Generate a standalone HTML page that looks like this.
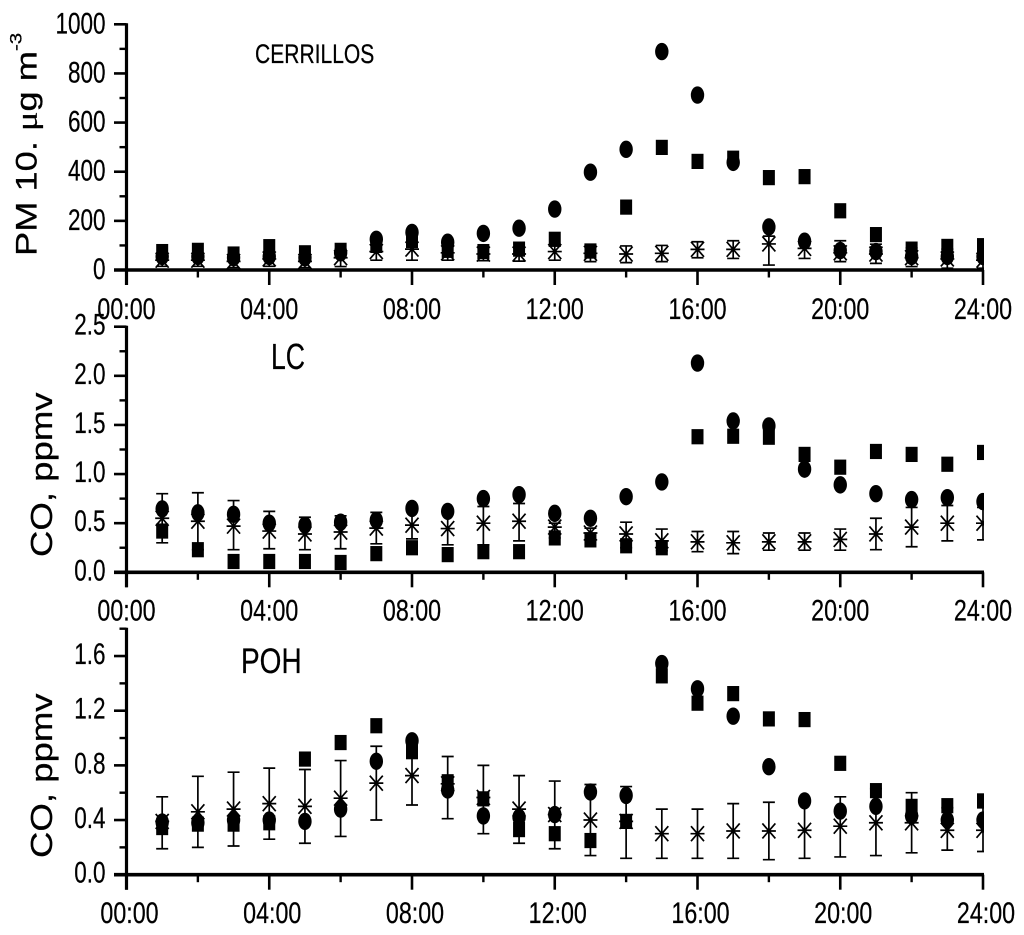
<!DOCTYPE html>
<html lang="en">
<head>
<meta charset="utf-8">
<title>CERRILLOS, LC and POH diurnal profiles</title>
<style>
html,body{margin:0;padding:0;background:#fff}
svg{display:block}
text{font-family:"Liberation Sans",sans-serif;fill:#000;stroke:#000;stroke-width:.25}
</style>
</head>
<body>
<svg id="chart" xmlns="http://www.w3.org/2000/svg" width="1024" height="935" viewBox="0 0 1024 935">
  <rect width="1024" height="935" fill="#fff"/>
  <text font-size="30" transform="translate(36.5,256) rotate(-90) scale(1.21,1)">PM 10. <tspan font-family="Liberation Serif">μ</tspan>g m<tspan font-size="17" dy="-15">-3</tspan></text>
  <text font-size="31" transform="translate(52,557) rotate(-90) scale(1.18,1)">CO, ppmv</text>
  <text font-size="31" transform="translate(52,858) rotate(-90) scale(1.18,1)">CO, ppmv</text>
  <text font-size="27" transform="translate(255,63) scale(.78,1)">CERRILLOS</text>
  <text font-size="36" transform="translate(271,369) scale(.74,1)">LC</text>
  <text font-size="35" transform="translate(241,673) scale(.8,1)">POH</text>
</svg>
<script>
// Shared data
const hours = [1,2,3,4,5,6,7,8,9,10,11,12,13,14,15,16,17,18,19,20,21,22,23,24];
const xTickLabels = ["00:00","04:00","08:00","12:00","16:00","20:00","24:00"];
const xTickValues = [0,4,8,12,16,20,24];
const xMinorValues = [2,6,10,14,18,22];

// PM10 panel (CERRILLOS)
const pmSquares = [75,80,65,95,70,80,100,120,80,75,85,125,77,256,499,442,455,376,380,241,144,85,96,99];
const pmCircles = [55,55,50,55,50,70,125,153,113,149,170,248,398,491,889,712,438,175,117,79,75,55,55,55];
const pmStars = [40,40,35,45,35,50,75,85,70,65,65,75,68,65,68,84,84,106,88,70,65,50,45,40];
const pmStarsHigh = [65,65,55,70,55,85,110,130,100,92,94,98,105,98,100,115,119,138,125,119,105,90,85,75];
const pmStarsLow = [15,15,10,15,10,14,40,40,40,38,36,40,34,30,34,50,47,20,47,34,27,14,7,7];
const pmYTicks = [0,200,400,600,800,1000];
const pmYTickLabels = ["0","200","400","600","800","1000"];
const pmYMinor = [100,300,500,700,900];

// CO panel (LC)
const lcSquares = [0.42,0.23,0.11,0.11,0.11,0.10,0.19,0.25,0.18,0.21,0.21,0.35,0.33,0.27,0.25,1.38,1.385,1.375,1.2,1.07,1.23,1.2,1.1,1.22];
const lcCircles = [0.645,0.605,0.59,0.5,0.48,0.51,0.53,0.65,0.62,0.75,0.79,0.6,0.55,0.77,0.92,2.13,1.54,1.49,1.05,0.89,0.8,0.74,0.76,0.72];
const lcStars = [0.55,0.52,0.47,0.42,0.39,0.41,0.45,0.48,0.445,0.5,0.52,0.46,0.4,0.39,0.32,0.31,0.3,0.31,0.31,0.335,0.39,0.46,0.5,0.5];
const lcStarsHigh = [0.8,0.81,0.73,0.62,0.56,0.575,0.61,0.63,0.6,0.67,0.7,0.5,0.45,0.51,0.44,0.415,0.415,0.4,0.4,0.44,0.55,0.66,0.68,0.66];
const lcStarsLow = [0.3,0.23,0.23,0.24,0.23,0.24,0.29,0.34,0.28,0.28,0.32,0.35,0.33,0.25,0.22,0.21,0.19,0.225,0.225,0.225,0.23,0.26,0.32,0.33];
const lcYTicks = [0,0.5,1,1.5,2,2.5];
const lcYTickLabels = ["0.0","0.5","1.0","1.5","2.0","2.5"];
const lcYMinor = [0.25,0.75,1.25,1.75,2.25];

// CO panel (POH)
const pohSquares = [0.345,0.37,0.37,0.38,0.846,0.967,1.09,0.9,0.68,0.555,0.33,0.3,0.25,0.39,1.455,1.255,1.325,1.14,1.135,0.815,0.615,0.5,0.505,0.54];
const pohCircles = [0.385,0.38,0.4,0.4,0.39,0.48,0.83,0.98,0.62,0.43,0.42,0.44,0.605,0.58,1.545,1.36,1.16,0.79,0.54,0.465,0.5,0.43,0.4,0.4];
const pohStars = [0.39,0.46,0.48,0.52,0.5,0.56,0.67,0.725,0.665,0.565,0.48,0.44,0.4,0.39,0.3,0.3,0.32,0.32,0.325,0.355,0.38,0.38,0.325,0.325];
const pohStarsHigh = [0.57,0.72,0.75,0.78,0.77,0.835,0.94,0.94,0.865,0.8,0.725,0.685,0.66,0.645,0.48,0.48,0.52,0.53,0.54,0.57,0.63,0.6,0.49,0.49];
const pohStarsLow = [0.19,0.2,0.21,0.26,0.23,0.28,0.4,0.51,0.41,0.3,0.23,0.19,0.14,0.12,0.12,0.12,0.12,0.11,0.12,0.13,0.14,0.16,0.18,0.17];
const pohYTicks = [0,0.4,0.8,1.2,1.6];
const pohYTickLabels = ["0.0","0.4","0.8","1.2","1.6"];
const pohYMinor = [0.2,0.6,1,1.4,1.8];

const NS = "http://www.w3.org/2000/svg";
const svg = document.getElementById("chart");
const X0 = 126.5, X1 = 983;
const xScale = h => X0 + (X1 - X0) * h / 24;

function mk(parent, tag, attrs, txt) {
  const el = document.createElementNS(NS, tag);
  for (const k in attrs) el.setAttribute(k, attrs[k]);
  if (txt !== undefined) el.textContent = txt;
  parent.appendChild(el);
  return el;
}

function drawPanel(p) {
  const y = v => p.y0 + (p.yTop - p.y0) * v / p.vTop;
  const root = mk(svg, "g", {});
  
  

  const clipId = "clip-" + p.id;
  const defs = mk(root, "defs", {});
  const cp = mk(defs, "clipPath", {id: clipId});
  mk(cp, "rect", {x: X0, y: y(p.vTop) - 10, width: X1 - X0 + 1, height: p.y0 - y(p.vTop) + 10});

  const marks = mk(root, "g", {"clip-path": "url(#" + clipId + ")"});
  
  

  // star series with error bars
  hours.forEach((h, i) => {
    const cx = xScale(h), cy = y(p.stars[i]), hi = y(p.high[i]), lo = y(p.low[i]);
    const g = mk(marks, "g", {stroke: "#000", "stroke-width": 1.7, fill: "none"});
    
    
    const d = `M${cx},${hi}V${lo}M${cx-6},${hi}H${cx+6}M${cx-6},${lo}H${cx+6}` +
      `M${cx-7},${cy}H${cx+7}M${cx-6.5},${cy-7.5}L${cx+6.5},${cy+7.5}M${cx-6.5},${cy+7.5}L${cx+6.5},${cy-7.5}`;
    mk(g, "path", {d});
  });
  // square series
  hours.forEach((h, i) => {
    const r = mk(marks, "rect", {x: xScale(h) - 6, y: y(p.squares[i]) - 7.6, width: 12, height: 15.2, fill: "#000"});
    
    
  });
  // circle series
  hours.forEach((h, i) => {
    const c = mk(marks, "ellipse", {cx: xScale(h), cy: y(p.circles[i]), rx: 6.7, ry: 8.7, fill: "#000"});
    
    
  });

  // y axis
  const yAxis = mk(root, "g", {stroke: "#000", fill: "none"});
  
  
  mk(yAxis, "line", {x1: X0, x2: X0, y1: y(p.vTop) - 1, y2: p.y0 + 15, "stroke-width": 3.2});
  p.ticks.forEach(v => mk(yAxis, "line", {x1: 114, x2: X0, y1: y(v), y2: y(v), "stroke-width": 2.6}));
  p.minor.forEach(v => mk(yAxis, "line", {x1: 119.5, x2: X0, y1: y(v), y2: y(v), "stroke-width": 2.4}));
  p.tickLabels.forEach((t, i) => {
    const el = mk(root, "text", {"font-size": 30, "text-anchor": "end",
      transform: `translate(105.5,${y(p.ticks[i]) + p.yLabelDy}) scale(.75,1)`}, t);
    
    
  });

  // x axis
  const xAxis = mk(root, "g", {stroke: "#000", fill: "none"});
  
  
  mk(xAxis, "line", {x1: 114, x2: X1 + 1, y1: p.y0, y2: p.y0, "stroke-width": 3.6});
  xTickValues.forEach(h => mk(xAxis, "line", {x1: xScale(h), x2: xScale(h), y1: p.y0, y2: p.y0 + 15, "stroke-width": 2.6}));
  xMinorValues.forEach(h => mk(xAxis, "line", {x1: xScale(h), x2: xScale(h), y1: p.y0, y2: p.y0 + 7.5, "stroke-width": 2.4}));
  xTickLabels.forEach((t, i) => {
    const el = mk(root, "text", {"font-size": 30, "text-anchor": "middle",
      transform: `translate(${xScale(xTickValues[i]) + p.labelDx},${p.labelY}) scale(.775,1)`}, t);
    
    
  });
}

drawPanel({id: "pm10", y0: 270, yTop: 24.3, vTop: 1000, labelY: 319, labelDx: 0, yLabelDy: 9,
  squares: pmSquares, circles: pmCircles, stars: pmStars, high: pmStarsHigh, low: pmStarsLow,
  ticks: pmYTicks, tickLabels: pmYTickLabels, minor: pmYMinor});
drawPanel({id: "co-lc", y0: 572.3, yTop: 326.7, vTop: 2.5, labelY: 620.5, labelDx: 0, yLabelDy: 8,
  squares: lcSquares, circles: lcCircles, stars: lcStars, high: lcStarsHigh, low: lcStarsLow,
  ticks: lcYTicks, tickLabels: lcYTickLabels, minor: lcYMinor});
drawPanel({id: "co-poh", y0: 874.7, yTop: 628.7, vTop: 1.8, labelY: 923, labelDx: 3, yLabelDy: 8,
  squares: pohSquares, circles: pohCircles, stars: pohStars, high: pohStarsHigh, low: pohStarsLow,
  ticks: pohYTicks, tickLabels: pohYTickLabels, minor: pohYMinor});
</script>
</body>
</html>
